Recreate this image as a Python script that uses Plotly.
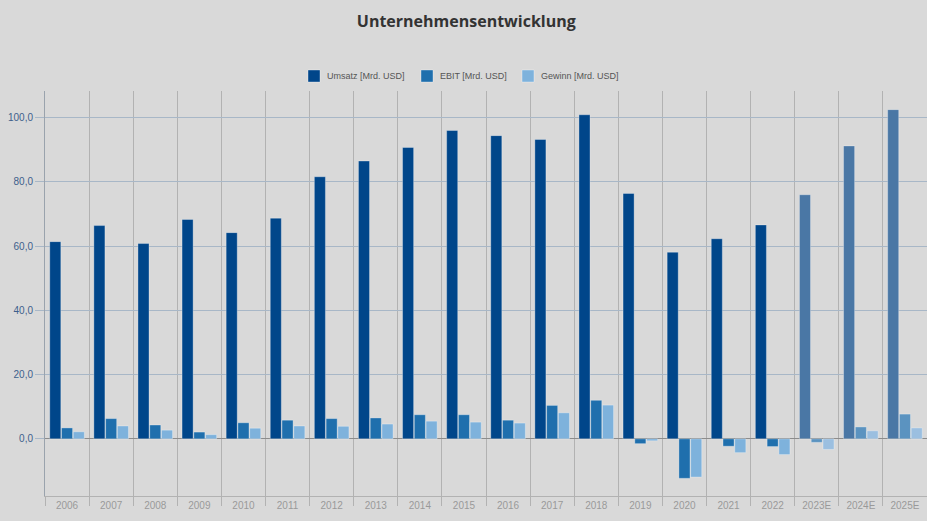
import plotly.graph_objects as go

years = ["2006", "2007", "2008", "2009", "2010", "2011", "2012", "2013", "2014", "2015",
         "2016", "2017", "2018", "2019", "2020", "2021", "2022", "2023E", "2024E", "2025E"]
umsatz = [61.4, 66.4, 60.8, 68.3, 64.2, 68.7, 81.6, 86.5, 90.7, 96.0,
          94.4, 93.2, 100.9, 76.4, 58.1, 62.3, 66.6, 76.0, 91.2, 102.5]
ebit = [3.4, 6.3, 4.3, 2.1, 5.0, 5.8, 6.3, 6.5, 7.5, 7.5,
        5.8, 10.4, 12.0, -1.5, -12.3, -2.3, -2.4, -1.1, 3.7, 7.7]
gewinn = [2.2, 4.0, 2.7, 1.3, 3.3, 4.0, 3.9, 4.6, 5.5, 5.2,
          4.9, 8.1, 10.5, -0.6, -11.9, -4.3, -4.9, -3.3, 2.5, 3.4]

series = [
    ("Umsatz [Mrd. USD]", umsatz, "#00468a", "#4a77a5"),
    ("EBIT [Mrd. USD]", ebit, "#1f6fad", "#5b93c0"),
    ("Gewinn [Mrd. USD]", gewinn, "#7eb2dc", "#9bbfe0"),
]

W, H = 927, 521
ML, MR, MT, MB = 45, 0, 91, 25
PW, PH = W - ML - MR, H - MT - MB


def px_x(px):
    return (px - ML) / PW


def px_y(py):
    return (H - MB - py) / PH


fig = go.Figure()
for name, vals, col, col_est in series:
    colors = [col_est if y.endswith("E") else col for y in years]
    fig.add_trace(go.Bar(
        x=years, y=vals, name=name, showlegend=False,
        marker=dict(color=colors, line=dict(color="rgba(255,255,255,0.3)", width=1)),
    ))

# custom legend (swatch + real text) to match the compact spacing
legend_pos = [(308, 326), (421, 439), (522, 540)]
shapes, annotations = [], []
for (sx, tx), (name, _, col, _) in zip(legend_pos, series):
    shapes.append(dict(type="rect", xref="paper", yref="paper",
                       x0=px_x(sx), x1=px_x(sx + 12), y0=px_y(82), y1=px_y(70),
                       fillcolor=col, line=dict(color="rgba(255,255,255,0.35)", width=1)))
    annotations.append(dict(text=name, xref="paper", yref="paper", x=px_x(tx - 1), y=px_y(76),
                            xanchor="left", yanchor="middle", showarrow=False,
                            font=dict(size=9, color="#555555")))

grey_bg = "#d9d9d9"
fig.update_layout(
    width=W, height=H,
    paper_bgcolor=grey_bg, plot_bgcolor=grey_bg,
    margin=dict(l=ML, r=MR, t=MT, b=MB),
    barmode="group", bargap=0.2, bargroupgap=0.06,
    separators=",.",
    font=dict(family="Liberation Sans, Arial, sans-serif", size=10, color="#555555"),
    title=dict(text="<b>Unternehmensentwicklung</b>", x=0.503, xanchor="center",
               xref="container", y=1 - 21 / H, yref="container", yanchor="middle",
               font=dict(family="Open Sans, sans-serif", size=16, color="#333333")),
    shapes=shapes, annotations=annotations,
    showlegend=False,
)
fig.update_xaxes(
    type="category", tickson="boundaries", showgrid=True, gridcolor="#b2b2b2", gridwidth=1,
    ticks="outside", ticklen=9, tickcolor="#b2b2b2",
    showline=True, linecolor="#b2b2b2", linewidth=1,
    tickfont=dict(size=10, color="#999999"),
)
fig.update_yaxes(
    range=[-17.8, 108.3], tickvals=[0, 20, 40, 60, 80, 100], tickformat=".1f",
    showgrid=True, gridcolor="#a8b7c7", gridwidth=1,
    zeroline=True, zerolinecolor="#8c8c8c", zerolinewidth=1,
    ticks="outside", ticklen=9, tickcolor="#a8b7c7",
    showline=True, linecolor="#9aa3ad", linewidth=1,
    tickfont=dict(size=10, color="#3d5f8c"),
)

fig.write_html("out.html")
